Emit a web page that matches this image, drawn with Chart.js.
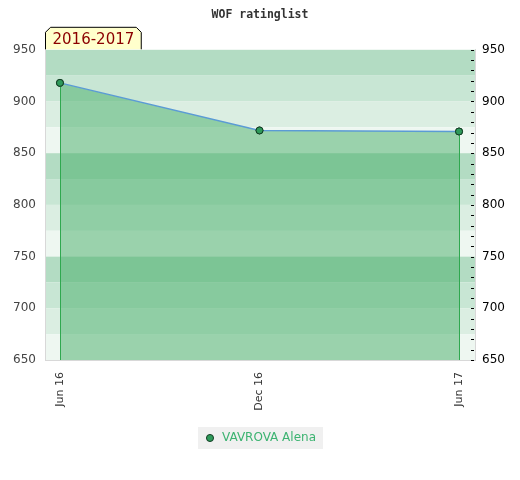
<!DOCTYPE html>
<html>
<head>
<meta charset="utf-8">
<script src="https://cdn.jsdelivr.net/npm/chart.js@4/dist/chart.umd.min.js"></script>
<style>
    html, body { margin:0; padding:0; background:#fff; }
    #wrap { width:520px; height:480px; }
</style>
</head>
<body>
<div id="wrap"><canvas id="ratingChart" width="520" height="480"></canvas></div>
<script>
/* =====================================================
   DATA
===================================================== */

const dateLabels = ["Jun 16", "Dec 16", "Jun 17"];

const ratingValues = [918, 872, 871];

const ratingMin = 650;
const ratingMax = 950;
const ratingStep = 50;
const ratingMinorStep = 10;

const seasonLabel = "2016-2017";
const playerName = "VAVROVA Alena";
const chartTitle = "WOF ratinglist";


/* =========================
   STYLES
========================= */

const bandColors = ["#b3dcc3", "#c8e6d4", "#dbeee2", "#eef7f1"];
const bandSize = 25;


/* =========================
   PLUGINS
========================= */

const bandsPlugin = {

    id: "bands",

    beforeDraw(chart){

        const { ctx, chartArea, scales } = chart;
        const y = scales.y;

        ctx.save();

        let i = 0;

        for(let v = ratingMax; v > ratingMin; v -= bandSize){

            const top = y.getPixelForValue(v);
            const bottom = y.getPixelForValue(v - bandSize);

            ctx.fillStyle = bandColors[i % bandColors.length];
            ctx.fillRect(chartArea.left, top, chartArea.right - chartArea.left, bottom - top);

            i++;

        }

        // legend background
        const box = chart.legend && chart.legend.legendHitBoxes[0];

        if(box){

            ctx.fillStyle = "#f0f0f0";
            ctx.fillRect(box.left - 6, box.top - 5, box.width + 13, box.height + 10);

        }

        ctx.restore();

    }

};

const edgesPlugin = {

    id: "edges",

    afterDatasetsDraw(chart){

        const { ctx, chartArea } = chart;
        const points = chart.getDatasetMeta(0).data;

        if(!points.length) return;

        ctx.save();
        ctx.strokeStyle = "#2fa84f";
        ctx.lineWidth = 1;

        [points[0], points[points.length - 1]].forEach(p => {

            const x = Math.round(p.x) + 0.5;

            ctx.beginPath();
            ctx.moveTo(x, p.y);
            ctx.lineTo(x, chartArea.bottom);
            ctx.stroke();

        });

        // redraw points on top
        points.forEach(p => p.draw(ctx));

        // minor ticks of the right axis, pointing inward
        const y2 = chart.scales.y2;

        ctx.strokeStyle = "#000";

        y2.ticks.forEach(t => {

            const py = Math.round(y2.getPixelForValue(t.value)) + 0.5;

            ctx.beginPath();
            ctx.moveTo(chartArea.right - 4, py);
            ctx.lineTo(chartArea.right - 1, py);
            ctx.stroke();

        });

        ctx.restore();

    }

};

const seasonPlugin = {

    id: "season",

    afterDraw(chart){

        const { ctx, chartArea } = chart;

        ctx.save();
        ctx.font = "15px 'DejaVu Sans'";

        const w = ctx.measureText(seasonLabel).width + 14;
        const l = chartArea.left + 0.5;
        const b = chartArea.top - 0.5;
        const t = b - 22;
        const c = 5;

        ctx.beginPath();
        ctx.moveTo(l, b);
        ctx.lineTo(l, t + c);
        ctx.lineTo(l + c, t);
        ctx.lineTo(l + w - c, t);
        ctx.lineTo(l + w, t + c);
        ctx.lineTo(l + w, b);
        ctx.fillStyle = "#ffffcc";
        ctx.fill();
        ctx.strokeStyle = "#000";
        ctx.lineWidth = 1;
        ctx.stroke();

        ctx.fillStyle = "#8b0000";
        ctx.textBaseline = "alphabetic";
        ctx.fillText(seasonLabel, l + 7, b - 5);

        ctx.restore();

    }

};


/* =========================
   CHART
========================= */

const canvas = document.getElementById("ratingChart");

new Chart(canvas, {

    type: "line",

    data: {

        datasets: [{

            label: playerName,

            data: ratingValues.map((v, i) => ({ x: i, y: v })),

            borderColor: "#5b9bd5",
            borderWidth: 1.5,
            backgroundColor: "rgba(70,173,103,0.5)",
            fill: "start",
            tension: 0,

            pointRadius: 3.5,
            pointBackgroundColor: "#2e9a5a",
            pointBorderColor: "#143d24",
            pointBorderWidth: 1,

            yAxisID: "y"

        }]

    },

    options: {

        responsive: false,
        animation: false,
        devicePixelRatio: 1,

        layout: {
            padding: { left: 0, right: 0, top: 0, bottom: 26 }
        },

        plugins: {

            title: {
                display: true,
                text: chartTitle,
                color: "#333",
                font: { family: "'DejaVu Sans Mono'", size: 11.5, weight: "bold" },
                padding: { top: 8, bottom: 28 }
            },

            legend: {
                position: "bottom",
                labels: {
                    usePointStyle: true,
                    pointStyle: "circle",
                    boxWidth: 12,
                    boxHeight: 5,
                    color: "#3cb371",
                    font: { family: "'DejaVu Sans'", size: 12 },
                    padding: 10
                }
            },

            tooltip: { enabled: false }

        },

        scales: {

            x: {

                type: "linear",
                min: -0.075,
                max: 2.08,

                afterBuildTicks: scale => {
                    scale.ticks = dateLabels.map((_, i) => ({ value: i }));
                },

                afterFit: scale => {
                    scale.height = 62;
                },

                ticks: {
                    callback: value => dateLabels[value],
                    minRotation: 90,
                    maxRotation: 90,
                    autoSkip: false,
                    padding: 12,
                    color: "#333",
                    font: { family: "'DejaVu Sans'", size: 11 }
                },

                grid: { display: false, drawTicks: false },
                border: { display: true, color: "#d8d8d8" }

            },

            y: {

                position: "left",
                min: ratingMin,
                max: ratingMax,

                afterFit: scale => {
                    scale.width = 45;
                },

                ticks: {
                    stepSize: ratingStep,
                    padding: 9,
                    color: "#444",
                    font: { family: "'DejaVu Sans'", size: 12 }
                },

                grid: { display: false, drawTicks: false },
                border: { display: true, color: "#d8d8d8" }

            },

            y2: {

                position: "right",
                display: true,
                min: ratingMin,
                max: ratingMax,

                afterFit: scale => {
                    scale.width = 45;
                },

                ticks: {
                    stepSize: ratingMinorStep,
                    autoSkip: false,
                    callback: value => value % ratingStep === 0 ? value : "",
                    padding: 7,
                    color: "#000",
                    font: { family: "'DejaVu Sans'", size: 12 }
                },

                grid: {
                    drawOnChartArea: false,
                    drawTicks: false
                },

                border: { display: true, color: "#d8d8d8" }

            }

        }

    },

    plugins: [bandsPlugin, edgesPlugin, seasonPlugin]

});
</script>
</body>
</html>
